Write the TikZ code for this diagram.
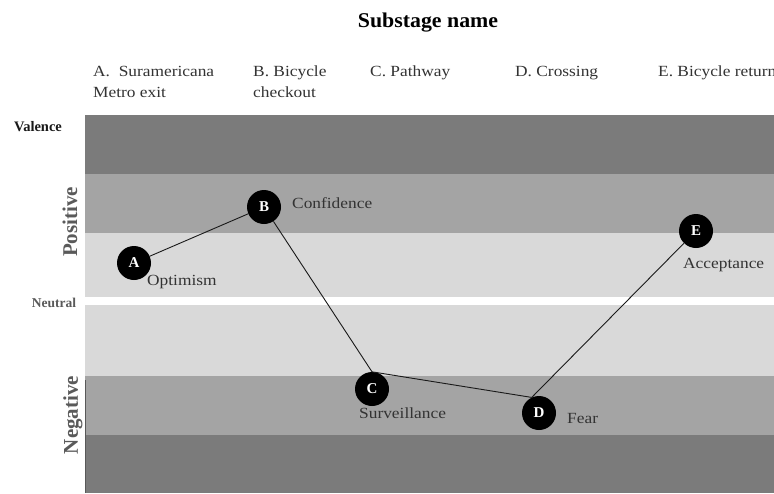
\documentclass[tikz,border=0pt]{standalone}
\usepackage{fontspec}
\setmainfont{Liberation Serif}
\definecolor{bandDark}{HTML}{7B7B7B}
\definecolor{bandMid}{HTML}{A4A4A4}
\definecolor{bandLight}{HTML}{D9D9D9}
\definecolor{txtGray}{HTML}{333333}
\definecolor{axisGray}{HTML}{5A5A5A}
\newcommand{\wide}[1]{\scalebox{1.12}[1]{#1}}
\begin{document}
\begin{tikzpicture}[x=1pt,y=-1pt,
  band/.style={draw=none},
  stage/.style={circle, fill=black, minimum size=34pt, inner sep=0pt, text=white,
    font=\bfseries\fontsize{15}{15}\selectfont},
  emo/.style={anchor=west, inner sep=0pt, text=txtGray, font=\fontsize{15.5}{18}\selectfont},
  collabel/.style={anchor=north west, inner sep=0pt, align=left, text=txtGray,
    font=\fontsize{15.5}{21}\selectfont},
  axislbl/.style={inner sep=0pt, text=axisGray, font=\bfseries\fontsize{21}{21}\selectfont, rotate=90},
  conn/.style={draw=black!90, line width=0.9pt}
]
\useasboundingbox (0,0) rectangle (774,493);
\fill[white] (0,0) rectangle (774,493);

% bands
\fill[band, bandDark]  (85,115) rectangle (774,174);
\fill[band, bandMid]   (85,174) rectangle (774,233);
\fill[band, bandLight] (85,233) rectangle (774,297);
\fill[band, bandLight] (85,305) rectangle (774,376);
\fill[band, bandMid]   (85,376) rectangle (774,435);
\fill[band, bandDark]  (85,435) rectangle (774,493);
\draw[black!65, line width=0.8pt] (85,380) -- (85,493);

% title and column labels
\node[inner sep=0pt, anchor=base, font=\bfseries\fontsize{21}{21}\selectfont] (title) at (428,27) {\scalebox{1.04}[1]{Substage name}};
\node[collabel] (colA) at (93,66) {\wide{A.\ \ Suramericana}\\\wide{Metro exit}};
\node[collabel] (colB) at (253,66) {\wide{B. Bicycle}\\\wide{checkout}};
\node[collabel] (colC) at (370,66) {\wide{C. Pathway}};
\node[collabel] (colD) at (515,66) {\wide{D. Crossing}};
\node[collabel] (colE) at (658,66) {\wide{E. Bicycle return}};

% axis labels
\node[inner sep=0pt, font=\bfseries\fontsize{14.5}{14.5}\selectfont, text=black!90] (valence) at (38,127) {Valence};
\node[inner sep=0pt, font=\bfseries\fontsize{13.5}{13.5}\selectfont, text=axisGray] (neutral) at (54,303) {Neutral};
\node[axislbl] (positive) at (70,222) {Positive};
\node[axislbl] (negative) at (73,415) {Negative};

% stage nodes
\node[stage] (A) at (134,263) {A};
\node[stage] (B) at (264,207) {B};
\node[stage] (C) at (372,389) {C};
\node[stage] (D) at (539,413) {D};
\node[stage] (E) at (696,231) {E};

% connectors
\draw[conn] (A) -- (B);
\draw[conn] (B) -- (C.north);
\draw[conn] (C.north) -- (D.115);
\draw[conn] (D.115) -- (E);

% emotion labels
\node[emo] (lA) at (147,282) {\wide{Optimism}};
\node[emo] (lB) at (292,203) {\wide{Confidence}};
\node[emo] (lC) at (359,413) {\wide{Surveillance}};
\node[emo] (lD) at (567,418) {\wide{Fear}};
\node[emo] (lE) at (683,265) {\wide{Acceptance}};
\end{tikzpicture}
\end{document}
